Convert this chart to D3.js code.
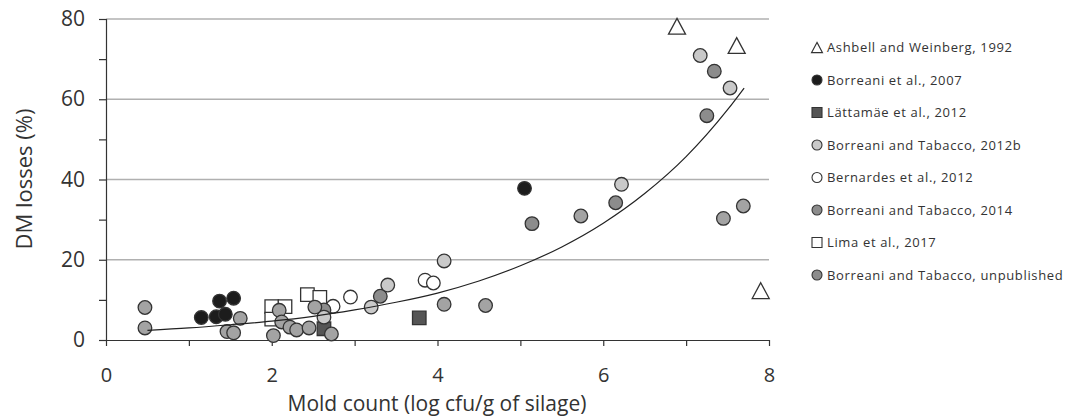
<!DOCTYPE html>
<html><head><meta charset="utf-8">
<script src="https://cdn.jsdelivr.net/npm/d3@7"></script>
<style>
body{margin:0;background:#fff;}
svg text{font-family:"Open Sans",sans-serif;fill:#333;}
</style></head>
<body><svg id="c" width="1069" height="419"></svg>
<script>
// ---- data ----
const xTicks = [0, 2, 4, 6, 8];
const yTicksMajor = [0, 20, 40, 60, 80];
const yTicksMinor = [10, 30, 50, 70];

const ashbellX = [6.89, 7.61, 7.90];
const ashbellY = [78.2, 73.4, 12.3];

const borreani2007X = [1.15, 1.33, 1.44, 1.37, 1.54, 5.05];
const borreani2007Y = [5.6, 5.8, 6.4, 9.7, 10.4, 37.8];

const lattamaeX = [2.63, 3.78];
const lattamaeY = [2.8, 5.5];

const bt2012bX = [2.63, 3.20, 3.40, 4.08, 6.22, 7.17, 7.53];
const bt2012bY = [5.7, 8.2, 13.7, 19.7, 38.8, 70.9, 62.8];

const bernardesX = [2.74, 2.95, 3.85, 3.95];
const bernardesY = [8.4, 10.7, 14.9, 14.2];

const bt2014X = [2.63, 3.31, 5.14, 6.15, 7.34, 7.25];
const bt2014Y = [7.5, 10.9, 29.0, 34.2, 67.0, 55.9];

const limaX = [2.00, 2.16, 2.00, 2.43, 2.58];
const limaY = [8.3, 8.3, 5.2, 11.3, 10.6];

const unpubX = [0.47, 0.47, 1.62, 1.46, 1.54, 2.09, 2.02, 2.12, 2.22, 2.30, 2.45, 2.52, 2.72, 4.08, 4.58, 5.73, 7.45, 7.69];
const unpubY = [8.1, 3.0, 5.4, 2.1, 1.8, 7.4, 1.1, 4.5, 3.2, 2.5, 3.0, 8.2, 1.5, 8.9, 8.6, 30.9, 30.3, 33.4];

// trend line
const trendX = [0.5, 1.0, 1.5, 2.0, 2.5, 3.0, 3.5, 4.0, 4.5, 5.0, 5.5, 6.0, 6.5, 7.0, 7.5, 7.7];
const trendY = [2.4, 3.0, 3.8, 4.7, 5.9, 7.5, 9.4, 11.7, 14.7, 18.5, 23.2, 29.1, 36.5, 45.7, 57.4, 62.8];

const legendLabels = ["Ashbell and Weinberg, 1992", "Borreani et al., 2007", "Lättamäe et al., 2012",
  "Borreani and Tabacco, 2012b", "Bernardes et al., 2012", "Borreani and Tabacco, 2014",
  "Lima et al., 2017", "Borreani and Tabacco, unpublished"];

// ---- drawing ----
const svg = d3.select("#c");
const x = d3.scaleLinear().domain([0, 8]).range([106, 769]);
const y = d3.scaleLinear().domain([0, 80]).range([340, 19]);
const stroke = "#333";

// gridlines
svg.append("g").selectAll("line").data(yTicksMajor.filter(d => d > 0)).join("line")
  .attr("x1", x(0)).attr("x2", x(8)).attr("y1", d => y(d)).attr("y2", d => y(d))
  .attr("stroke", "#b0b0b0").attr("stroke-width", 1.5);

// y axis
const yAxis = d3.axisLeft(y).tickValues(yTicksMajor.concat(yTicksMinor).sort((a,b)=>a-b))
  .tickSize(7).tickPadding(14).tickFormat(d => yTicksMajor.includes(d) ? d : "");
const gy = svg.append("g").attr("transform", `translate(${x(0)},0)`).call(yAxis);
gy.select(".domain").attr("stroke", stroke).attr("stroke-width", 1.2);
gy.selectAll(".tick line").attr("stroke", stroke).attr("stroke-width", 1.2);
gy.selectAll(".tick text").style("font-size", "21px").style("font-family", "Open Sans").attr("fill", "#333");

// x axis
const xAxis = d3.axisBottom(x).tickValues(d3.range(0, 9)).tickSize(6).tickPadding(22)
  .tickFormat(d => xTicks.includes(d) ? d : "").tickSizeOuter(0);
const gx = svg.append("g").attr("transform", `translate(0,${y(0)})`).call(xAxis);
gx.select(".domain").attr("stroke", stroke).attr("stroke-width", 1.2);
gx.selectAll(".tick line").attr("stroke", stroke).attr("stroke-width", 1.2);
gx.selectAll(".tick text").style("font-size", "20px").style("font-family", "Open Sans").attr("fill", "#333");

// axis titles
svg.append("text").attr("x", 437).attr("y", 411).attr("text-anchor", "middle")
  .style("font-size", "21px").text("Mold count (log cfu/g of silage)");
svg.append("text").attr("transform", "translate(32,179) rotate(-90)").attr("text-anchor", "middle")
  .style("font-size", "22px").text("DM losses (%)");

// marker helpers
function tri(s) { const h = s * 0.93; return `M0,${-h/2}L${s/2},${h/2}L${-s/2},${h/2}Z`; }
function sq(s) { return `M${-s/2},${-s/2}h${s}v${s}h${-s}Z`; }

function drawSeries(xs, ys, type, fill, size) {
  const data = xs.map((v, i) => [v, ys[i]]);
  const g = svg.append("g");
  if (type === "circle") {
    g.selectAll("circle").data(data).join("circle")
      .attr("cx", d => x(d[0])).attr("cy", d => y(d[1])).attr("r", size)
      .attr("fill", fill).attr("stroke", stroke).attr("stroke-width", 1.3);
  } else {
    g.selectAll("path").data(data).join("path")
      .attr("transform", d => `translate(${x(d[0])},${y(d[1])})`)
      .attr("d", type === "tri" ? tri(size) : sq(size))
      .attr("fill", fill).attr("stroke", stroke).attr("stroke-width", 1.3);
  }
}

const series = [
  {xs: ashbellX, ys: ashbellY, type: "tri", fill: "#fff", size: 17, ls: 11},
  {xs: borreani2007X, ys: borreani2007Y, type: "circle", fill: "#1c1c1c", size: 6.8, ls: 5},
  {xs: lattamaeX, ys: lattamaeY, type: "sq", fill: "#555", size: 13.5, ls: 10},
  {xs: bt2012bX, ys: bt2012bY, type: "circle", fill: "#c9c9c9", size: 6.8, ls: 5},
  {xs: bernardesX, ys: bernardesY, type: "circle", fill: "#fff", size: 6.8, ls: 5},
  {xs: bt2014X, ys: bt2014Y, type: "circle", fill: "#8c8c8c", size: 6.8, ls: 5},
  {xs: limaX, ys: limaY, type: "sq", fill: "#fff", size: 13.5, ls: 10},
  {xs: unpubX, ys: unpubY, type: "circle", fill: "#a3a3a3", size: 6.8, ls: 5}
];

// draw order
[6, 2, 4, 5, 3, 7, 1, 0].forEach(i => {
  const s = series[i];
  drawSeries(s.xs, s.ys, s.type, s.fill, s.size);
});

// trend line
svg.append("path").datum(trendX.map((v, i) => [v, trendY[i]]))
  .attr("d", d3.line().x(d => x(d[0])).y(d => y(d[1])).curve(d3.curveMonotoneX))
  .attr("fill", "none").attr("stroke", "#222").attr("stroke-width", 1.2);

// legend
const lg = svg.append("g");
series.forEach((s, i) => {
  const cy = 47.5 + i * 32.5;
  const mx = 817;
  if (s.type === "circle") {
    lg.append("circle").attr("cx", mx).attr("cy", cy).attr("r", s.ls)
      .attr("fill", s.fill === "#a3a3a3" ? "#8c8c8c" : s.fill).attr("stroke", stroke).attr("stroke-width", 1.1);
  } else {
    lg.append("path").attr("transform", `translate(${mx},${cy})`)
      .attr("d", s.type === "tri" ? tri(s.ls) : sq(s.ls))
      .attr("fill", s.fill).attr("stroke", stroke).attr("stroke-width", 1.1);
  }
  lg.append("text").attr("x", 827).attr("y", cy).attr("dy", "0.35em")
    .style("font-size", "13px").style("letter-spacing", "0.65px").text(legendLabels[i]);
});
</script></body></html>
